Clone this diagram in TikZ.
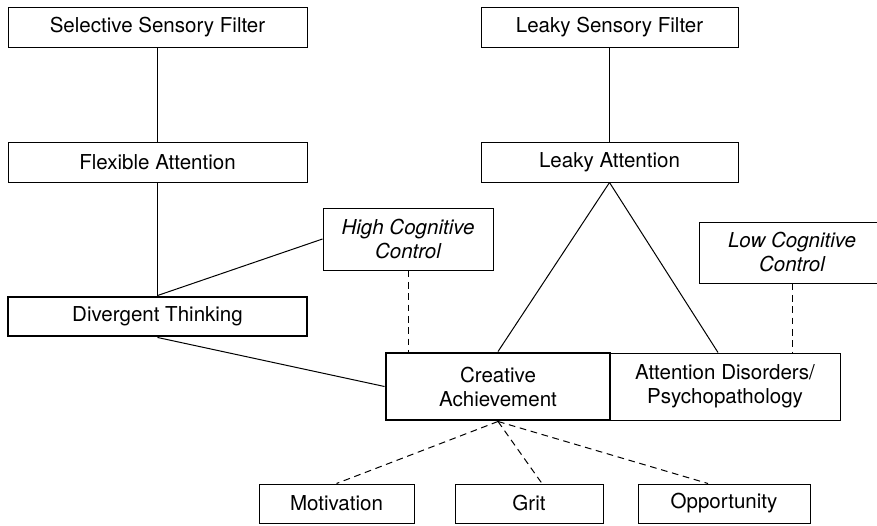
\documentclass[tikz,border=0pt]{standalone}
\usepackage{fontspec}
\setmainfont{TeX Gyre Heros}
\usepackage{tikz}

\tikzset{
  box/.style={draw, line width=0.75pt, inner sep=0pt, align=center,
    font=\fontsize{15.4}{18}\selectfont},
  heavybox/.style={box, line width=2.2pt},
  boxdim/.style 2 args={minimum width=#1, minimum height=#2},
  link/.style={line width=0.75pt},
  dashlink/.style={line width=0.75pt, dash pattern=on 5pt off 3.5pt},
}

\begin{document}
\begin{tikzpicture}[x=0.75pt, y=-0.75pt]
    \useasboundingbox (0,0) rectangle (877,525);
    % filters and attention
    \node[box, boxdim={224.25pt}{30pt}] (SSF) at (157.5,27) {Selective Sensory Filter};
    \node[box, boxdim={192.75pt}{30pt}] (LSF) at (609.5,27) {Leaky Sensory Filter};
    \node[box, boxdim={224.25pt}{30pt}] (FA) at (157.5,162) {Flexible Attention};
    \node[box, boxdim={192.75pt}{30pt}] (LA) at (609.5,162) {Leaky Attention};
    % control
    \node[box, boxdim={127.5pt}{46.5pt}, font=\fontsize{15.4}{18}\selectfont\itshape] (HCC) at (408,239) {High Cognitive\\Control};
    \node[box, boxdim={139.5pt}{45.75pt}, font=\fontsize{15.4}{18}\selectfont\itshape] (LCC) at (792,252.5) {Low Cognitive\\Control};
    % outcomes
    \node[heavybox, boxdim={224.25pt}{29.25pt}] (DT) at (157.5,316.5) {Divergent Thinking};
    \node[box, boxdim={172.5pt}{50.25pt}] (AD) at (725,386.5) {Attention Disorders/\\Psychopathology};
    \node[heavybox, boxdim={168pt}{50.25pt}] (CA) at (498,386.5) {Creative\\Achievement};
    \node[box, boxdim={116.25pt}{29.25pt}] (Mot) at (336.5,503.5) {Motivation};
    \node[box, boxdim={111pt}{29.25pt}] (Grit) at (529,503.5) {Grit};
    \node[box, boxdim={129pt}{29.25pt}] (Opp) at (724,503.5) {Opportunity};

    \draw[link] (SSF) -- (FA);
    \draw[link] (LSF) -- (LA);
    \draw[link] (FA) -- (DT);
    \draw[link] (HCC.west) -- (DT.north);
    \draw[link] (DT.south) -- (CA.west);
    \draw[link] (LA.south) -- (CA.north);
    \draw[link] (LA.south) -- ([xshift=-5.25pt]AD.north);
    \draw[dashlink] (HCC.south) -- (HCC.south |- CA.north);
    \draw[dashlink] (LCC.south) -- (LCC.south |- AD.north);
    \draw[dashlink] (CA.south) -- (Mot.north);
    \draw[dashlink] (CA.south) -- ([xshift=9.75pt]Grit.north);
    \draw[dashlink] (CA.south) -- ([xshift=-12pt]Opp.north);
\end{tikzpicture}
\end{document}
